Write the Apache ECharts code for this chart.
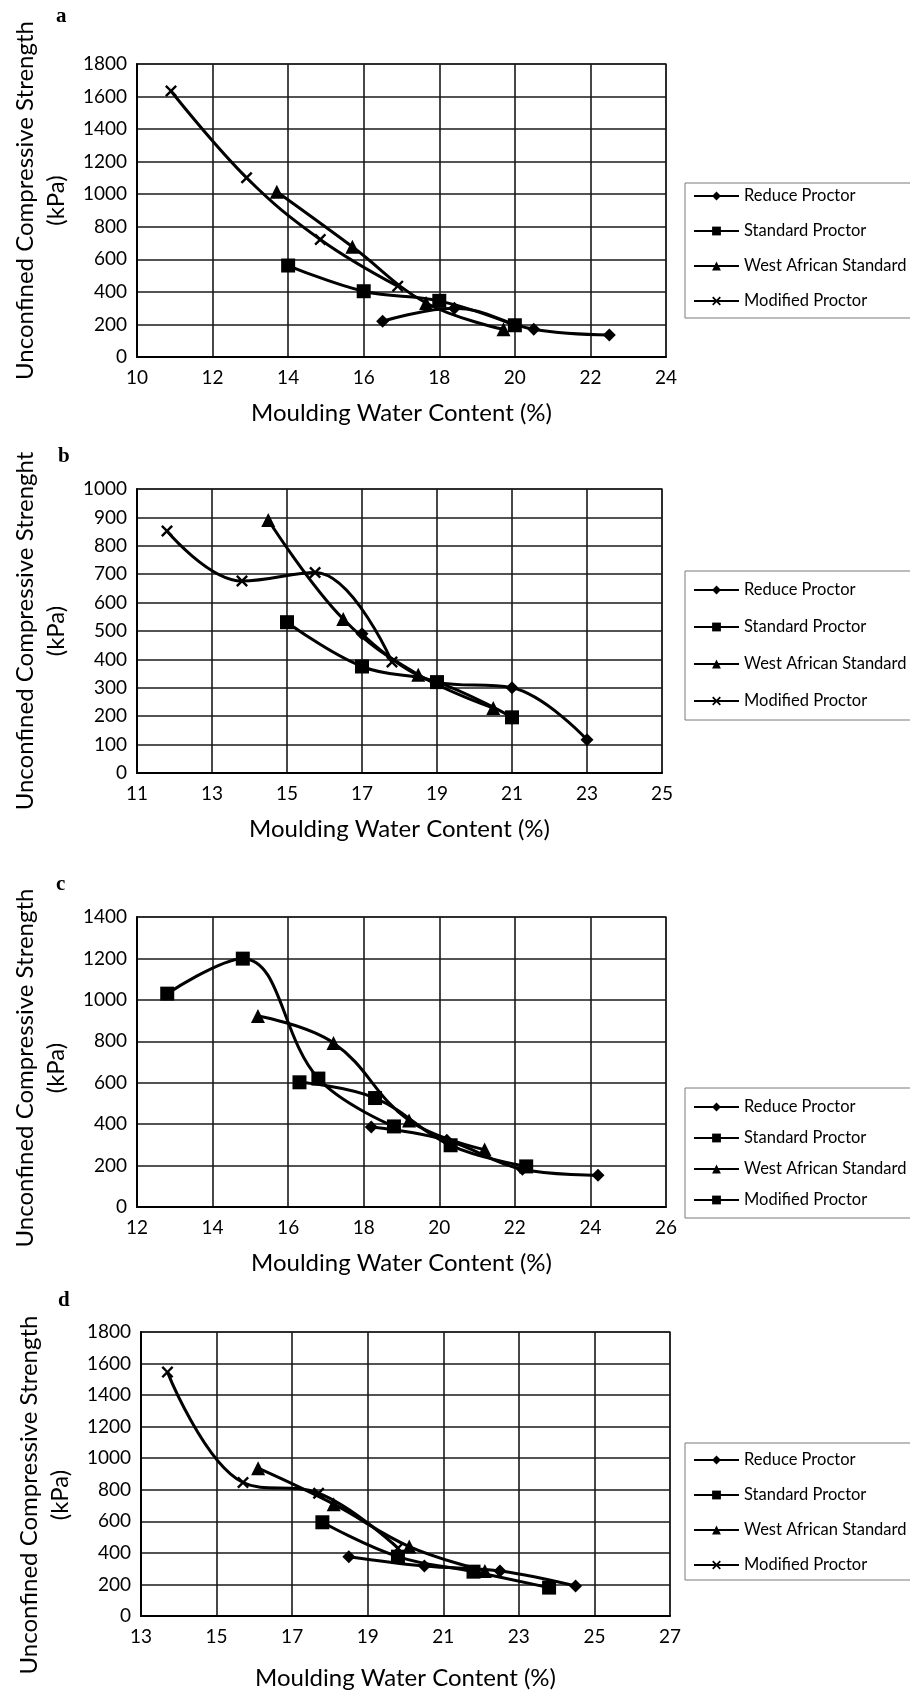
<!DOCTYPE html>
<html>
<head>
<meta charset="utf-8">
<title>Unconfined compressive strength vs moulding water content</title>
<script src="https://cdn.jsdelivr.net/npm/echarts@6/dist/echarts.min.js"></script>
<style>
  html, body { margin: 0; padding: 0; background: #fff; }
  #chart { width: 910px; height: 1696px; }
</style>
</head>
<body>
<div id="chart"></div>
<script>
// values, [water content %, UCS kPa]
const seriesNames = ['Reduce Proctor', 'Standard Proctor', 'West African Standard', 'Modified Proctor']

const aReduce = [[16.5, 220], [18.4, 300], [20.5, 170], [22.5, 135]]
const aStandard = [[14, 562], [16, 404], [18, 345], [20, 195]]
const aWestAfrican = [[13.7, 1015], [15.7, 677], [17.65, 332], [19.7, 170]]
const aModified = [[10.9, 1634], [12.9, 1101], [14.85, 722], [16.9, 435]]

const bReduce = [[17, 490], [19, 320], [21, 300], [23, 117]]
const bStandard = [[15, 531], [17, 375], [19, 320], [21, 196]]
const bWestAfrican = [[14.5, 891], [16.5, 542], [18.5, 346], [20.5, 229]]
const bModified = [[11.8, 852], [13.8, 676], [15.75, 706], [17.8, 391]]

const cReduce = [[18.2, 386], [20.2, 322], [22.2, 182], [24.2, 153]]
const cStandard = [[16.3, 602], [18.3, 526], [20.3, 298], [22.3, 196]]
const cWestAfrican = [[15.2, 922], [17.2, 792], [19.2, 418], [21.2, 277]]
const cModified = [[12.8, 1030], [14.8, 1199], [16.8, 620], [18.8, 389]]

const dReduce = [[18.5, 376], [20.5, 317], [22.5, 285], [24.5, 190]]
const dStandard = [[17.8, 594], [19.8, 376], [21.8, 281], [23.8, 180]]
const dWestAfrican = [[16.1, 937], [18.1, 709], [20.1, 440], [22.1, 286]]
const dModified = [[13.7, 1546], [15.7, 846], [17.7, 778], [19.8, 430]]

// axis ranges [min, max, step]
const xRanges = [[10, 24, 2], [11, 25, 2], [12, 26, 2], [13, 27, 2]]
const yRanges = [[0, 1800, 200], [0, 1000, 100], [0, 1400, 200], [0, 1800, 200]]
const panelLetters = ['a', 'b', 'c', 'd']
const yTitles = [
  'Unconfined Compressive Strength\n(kPa)',
  'Unconfined Compressive Strenght\n(kPa)',
  'Unconfined Compressive Strength\n(kPa)',
  'Unconfined Compressive Strength\n(kPa)'
]
const xTitle = 'Moulding Water Content (%)'

const panelData = [
  [aReduce, aStandard, aWestAfrican, aModified],
  [bReduce, bStandard, bWestAfrican, bModified],
  [cReduce, cStandard, cWestAfrican, cModified],
  [dReduce, dStandard, dWestAfrican, dModified]
]

const crossSymbol = 'path://M0,1.4L1.4,0L5,3.6L8.6,0L10,1.4L6.4,5L10,8.6L8.6,10L5,6.4L1.4,10L0,8.6L3.6,5Z'
// panel c draws the modified proctor curve with squares
const panelSymbols = [
  [['diamond', 13], ['rect', 14], ['triangle', 14], [crossSymbol, 12]],
  [['diamond', 13], ['rect', 14], ['triangle', 14], [crossSymbol, 12]],
  [['diamond', 13], ['rect', 14], ['triangle', 14], ['rect', 14]],
  [['diamond', 13], ['rect', 14], ['triangle', 14], [crossSymbol, 12]]
]

const grids = [
  { left: 137, top: 64, width: 529, height: 293 },
  { left: 137, top: 489, width: 525, height: 284 },
  { left: 137, top: 917, width: 529, height: 290 },
  { left: 141, top: 1332, width: 529, height: 284 }
]
const legendPos = [
  { top: 183, gap: 15, pad: [3, 12, 7, 8] },
  { top: 571, gap: 17, pad: [9, 12, 9, 8] },
  { top: 1088, gap: 11, pad: [9, 12, 8, 8] },
  { top: 1443, gap: 15, pad: [7, 12, 5, 8] }
]
const xNameGaps = [44, 44, 44, 50]
// shift of the y title along the axis (positive moves it up)
const yTitleShift = [10, 0, -6, -21]
const letterPos = [[56, 6], [58, 446], [56, 874], [58, 1290]]

const font = 'Lato'
const gridColor = '#1a1a1a'

const chart = echarts.init(document.getElementById('chart'))

const series = []
panelData.forEach((list, p) => {
  list.forEach((data, k) => {
    series.push({
      type: 'line',
      name: panelLetters[p] + ':' + seriesNames[k],
      xAxisIndex: p,
      yAxisIndex: p,
      data: data,
      smooth: 0.4,
      symbol: panelSymbols[p][k][0],
      symbolSize: panelSymbols[p][k][1],
      lineStyle: { color: '#000', width: 3 },
      itemStyle: { color: '#000' }
    })
  })
})

chart.setOption({
  backgroundColor: '#fff',
  animation: false,
  title: panelLetters.map((l, p) => ({
    text: l,
    left: letterPos[p][0],
    top: letterPos[p][1],
    padding: 0,
    textStyle: { fontFamily: 'Liberation Serif', fontWeight: 'bold', fontSize: 21, color: '#000' }
  })),
  grid: grids.map(g => Object.assign({
    show: true,
    borderColor: '#444',
    borderWidth: 1.4,
    containLabel: false
  }, g)),
  xAxis: xRanges.map((r, p) => ({
    type: 'value',
    gridIndex: p,
    min: r[0],
    max: r[1],
    interval: r[2],
    name: xTitle,
    nameLocation: 'middle',
    nameGap: xNameGaps[p],
    nameTextStyle: { fontFamily: font, fontSize: 24, color: '#000' },
    axisLine: { lineStyle: { color: '#000', width: 2 } },
    axisTick: { show: false },
    axisLabel: { fontFamily: font, fontSize: 19, color: '#000', margin: 11 },
    splitLine: { show: true, lineStyle: { color: gridColor, width: 1.6 } }
  })),
  yAxis: yRanges.map((r, p) => {
    const s = yTitleShift[p]
    return {
      type: 'value',
      gridIndex: p,
      min: r[0],
      max: r[1],
      interval: r[2],
      name: yTitles[p],
      nameLocation: 'middle',
      nameGap: 63,
      nameTextStyle: {
        fontFamily: font,
        fontSize: 24,
        lineHeight: 31.5,
        color: '#000',
        padding: s >= 0 ? [0, 0, 0, 2 * s] : [0, -2 * s, 0, 0]
      },
      axisLine: { show: true, lineStyle: { color: '#000', width: 2 } },
      axisTick: { show: false },
      axisLabel: {
        fontFamily: font,
        fontSize: 19,
        color: '#000',
        margin: 10,
        formatter: v => String(v)
      },
      splitLine: { show: true, lineStyle: { color: gridColor, width: 1.6 } }
    }
  }),
  legend: legendPos.map((lp, p) => ({
    orient: 'vertical',
    left: 685,
    top: lp.top,
    padding: lp.pad,
    itemGap: lp.gap,
    itemWidth: 45,
    itemHeight: 11,
    borderColor: '#7a7a7a',
    borderWidth: 1,
    data: seriesNames.map(n => panelLetters[p] + ':' + n),
    formatter: name => name.slice(2),
    textStyle: { fontFamily: font, fontSize: 16.5, lineHeight: 20, color: '#000' }
  })),
  series: series
})
</script>
</body>
</html>
